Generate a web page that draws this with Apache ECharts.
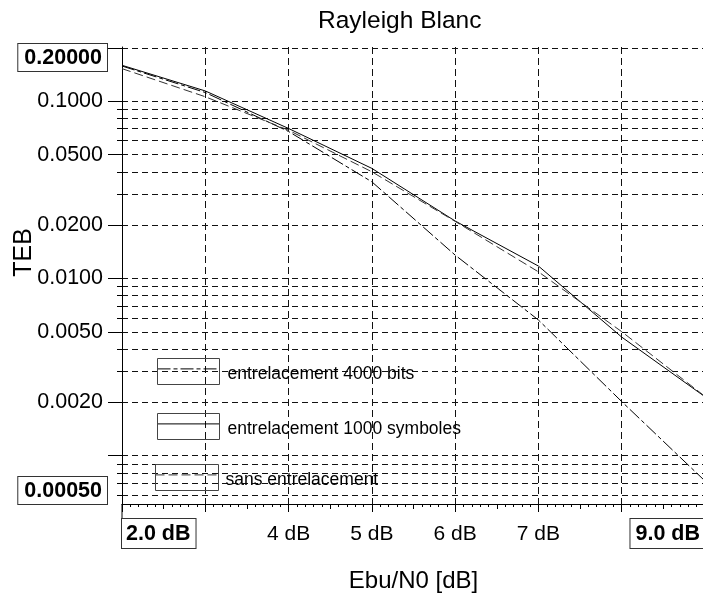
<!DOCTYPE html>
<html><head><meta charset="utf-8">
<script src="https://cdn.jsdelivr.net/npm/echarts@6/dist/echarts.min.js"></script>
<style>html,body{margin:0;padding:0;background:#fff}#c{width:703px;height:596px}</style>
</head><body><div id="c"></div>
<script>
// ---- data ----
const ebn0 = [2, 3, 4, 5, 6, 7, 8, 9];
const teb4000bits = [0.158, 0.112, 0.0675, 0.0351, 0.01355, 0.00583, 0.00202, 0.00072];
const teb1000symboles = [0.1595, 0.1143, 0.0702, 0.0418, 0.0211, 0.01175, 0.00467, 0.00215];
const tebSansEntrelacement = [0.1527, 0.106, 0.0686, 0.0400, 0.0210, 0.0109, 0.00501, 0.00216];
const seriesNames = ['entrelacement 4000 bits', 'entrelacement 1000 symboles', 'sans entrelacement'];

const yLabelValues = [0.1, 0.05, 0.02, 0.01, 0.005, 0.002];
const yLabelTexts = ['0.1000', '0.0500', '0.0200', '0.0100', '0.0050', '0.0020'];
const yMajorTickValues = [0.2, 0.1, 0.05, 0.02, 0.01, 0.005, 0.002, 0.001];
const yGridValues = [0.2, 0.1, 0.09, 0.08, 0.07, 0.06, 0.05, 0.04, 0.03, 0.02,
  0.01, 0.009, 0.008, 0.007, 0.006, 0.005, 0.004, 0.003, 0.002,
  0.001, 0.0009, 0.0008, 0.0007, 0.0006];
const xLabelValues = [4, 5, 6, 7];
const xLabelTexts = ['4 dB', '5 dB', '6 dB', '7 dB'];
const yEndLabels = ['0.20000', '0.00050'];
const xEndLabels = ['2.0 dB', '9.0 dB'];
const xRange = [2, 9];
const yRange = [0.000534, 0.2023];

// ---- chart ----
const FONT = '"Liberation Sans", Arial, Helvetica, sans-serif';
const chart = echarts.init(document.getElementById('c'), null, {renderer: 'canvas'});
const pairs = arr => ebn0.map((x, i) => [x, arr[i]]);
const gridDash = {color: '#111', width: 1, type: [6, 4]};

function yLabel(v) {
  let best = 0, bd = Infinity;
  yLabelValues.forEach((t, i) => { const d = Math.abs(Math.log10(v) - Math.log10(t)); if (d < bd) { bd = d; best = i; } });
  return bd < 1e-3 ? yLabelTexts[best] : '';
}
function xLabel(v) {
  const i = xLabelValues.findIndex(t => Math.abs(t - v) < 1e-6);
  return i >= 0 ? xLabelTexts[i] : '';
}

const option = {
  animation: false,
  backgroundColor: '#fff',
  textStyle: {fontFamily: FONT},
  title: {
    text: 'Rayleigh Blanc', left: 313, top: 4,
    textStyle: {fontFamily: FONT, fontSize: 24.5, fontWeight: 'normal', color: '#000'}
  },
  grid: {left: 122, right: -2, top: 47, bottom: 92, containLabel: false, outerBoundsMode: 'none'},
  legend: [0, 1, 2].map(i => ({
    data: [seriesNames[i]],
    left: [157, 157, 155][i], top: [358.5, 413.5, 464.5][i],
    orient: 'horizontal', padding: 0,
    itemWidth: 62, itemHeight: 26, itemGap: 0,
    selectedMode: false,
    itemStyle: {opacity: 0, borderWidth: 0},
    lineStyle: {width: 1},
    formatter: name => '{t|' + name + '}',
    textStyle: {fontFamily: FONT, fontSize: 17.5, color: '#000',
      rich: {t: {fontFamily: FONT, fontSize: 17.5, color: '#000', lineHeight: 29, verticalAlign: 'bottom', padding: [0, 0, 0, 3]}}}
  })),
  xAxis: [{
    type: 'value', min: xRange[0], max: xRange[1], interval: 1,
    axisLine: {show: true, onZero: false, lineStyle: {color: '#000', width: 1}},
    axisTick: {show: true, length: 8, lineStyle: {color: '#000'}},
    minorTick: {show: true, splitNumber: 10, length: 3, lineStyle: {color: '#000'}},
    axisLabel: {show: true, margin: 20, fontSize: 21, color: '#000', fontFamily: FONT, formatter: xLabel, showMinLabel: true, showMaxLabel: true},
    splitLine: {show: true, lineStyle: {color: '#111', width: 1, type: [7, 4]}},
    name: 'Ebu/N0 [dB]', nameLocation: 'middle', nameGap: 65, nameMoveOverlap: false,
    nameTextStyle: {fontSize: 24, color: '#000', fontFamily: FONT}
  }, {
    type: 'value', min: xRange[0], max: xRange[1], interval: 0.5, position: 'bottom',
    axisLine: {show: false}, axisLabel: {show: false}, splitLine: {show: false},
    axisTick: {show: true, length: 5, lineStyle: {color: '#000'}}
  }],
  yAxis: [{
    type: 'log', logBase: 10, min: yRange[0], max: yRange[1],
    axisLine: {show: true, onZero: false, lineStyle: {color: '#000', width: 1}},
    axisTick: {show: true, length: 14, customValues: yMajorTickValues, lineStyle: {color: '#000'}},
    axisLabel: {show: true, margin: 19, fontSize: 21.5, color: '#000', fontFamily: FONT,
      customValues: yLabelValues, formatter: yLabel},
    splitLine: {show: false},
    name: 'TEB', nameLocation: 'middle', nameGap: 85, nameRotate: 90, nameMoveOverlap: false,
    nameTextStyle: {fontSize: 25, color: '#000', fontFamily: FONT, padding: [0, 0, 0, 46]}
  }, {
    type: 'log', logBase: 10, min: yRange[0], max: yRange[1], position: 'left',
    axisLine: {show: false},
    axisTick: {show: true, length: 5, customValues: yGridValues, lineStyle: {color: '#000'}},
    axisLabel: {show: false},
    splitLine: {show: true, lineStyle: gridDash}
  }],
  series: [{
    name: seriesNames[0], type: 'line', xAxisIndex: 0, yAxisIndex: 0,
    data: pairs(teb4000bits), symbol: 'none', showSymbol: false,
    lineStyle: {color: '#000', width: 1, type: [13, 3, 4, 3]}, itemStyle: {color: '#000'}
  }, {
    name: seriesNames[1], type: 'line', xAxisIndex: 0, yAxisIndex: 0,
    data: pairs(teb1000symboles), symbol: 'none', showSymbol: false,
    lineStyle: {color: '#000', width: 1, type: 'solid'}, itemStyle: {color: '#000'}
  }, {
    name: seriesNames[2], type: 'line', xAxisIndex: 0, yAxisIndex: 0,
    data: pairs(tebSansEntrelacement), symbol: 'none', showSymbol: false,
    lineStyle: {color: '#333', width: 1, type: [9, 4]}, itemStyle: {color: '#333'}
  }]
};
chart.setOption(option);

// boxed end labels + legend frames
const yTop = chart.convertToPixel({yAxisIndex: 0}, yRange[1]);
const yBot = chart.convertToPixel({yAxisIndex: 0}, yRange[0]);
const xL = chart.convertToPixel({xAxisIndex: 0}, xRange[0]);
const xR = chart.convertToPixel({xAxisIndex: 0}, xRange[1]);
const boxStyle = (text, extra) => Object.assign({
  text, font: 'bold 21.5px ' + FONT, fill: '#000',
  backgroundColor: '#fff', borderColor: '#333', borderWidth: 1, padding: [3, 5, 2, 6]
}, extra);
const legendFrames = [[157, 358, 62, 26], [157, 413, 62, 26], [155, 464, 63, 26]];
chart.setOption({
  graphic: [
    {type: 'text', x: xL - 15, y: yTop - 3, z: 100, style: boxStyle(yEndLabels[0], {align: 'right', verticalAlign: 'top', textAlign: 'right', textVerticalAlign: 'top'})},
    {type: 'text', x: xL - 15, y: yBot, z: 100, style: boxStyle(yEndLabels[1], {align: 'right', verticalAlign: 'bottom', textAlign: 'right', textVerticalAlign: 'bottom'})},
    {type: 'text', x: xL, y: yBot + 15, z: 100, style: boxStyle(xEndLabels[0], {align: 'left', verticalAlign: 'top', textAlign: 'left', textVerticalAlign: 'top', padding: [4, 5, 3, 4]})},
    {type: 'text', x: xR, y: yBot + 15, z: 100, style: boxStyle(xEndLabels[1], {align: 'right', verticalAlign: 'top', textAlign: 'right', textVerticalAlign: 'top', padding: [4, 5, 3, 5]})},
    {type: 'line', z: 99, shape: {x1: xL, y1: yBot, x2: xL, y2: yBot + 15}, style: {stroke: '#000', lineWidth: 1}}
  ].concat(legendFrames.map(f => ({
    type: 'rect', z: 100, shape: {x: f[0] + 0.5, y: f[1] + 0.5, width: f[2], height: f[3]},
    style: {fill: 'none', stroke: '#444', lineWidth: 1}
  })))
});
</script>
</body></html>
